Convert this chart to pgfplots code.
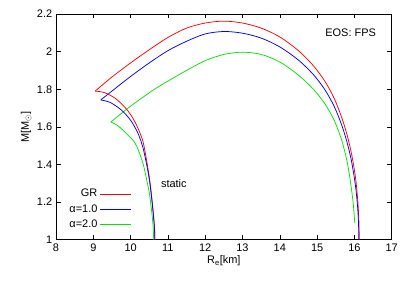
\documentclass[border=0pt]{standalone}
\usepackage{pgfplots}
\pgfplotsset{compat=1.18}
\usepackage{fontspec}
\setmainfont{Liberation Sans}
\definecolor{gpred}{RGB}{255,0,0}
\definecolor{gpblue}{RGB}{0,0,255}
\definecolor{gpgreen}{RGB}{0,230,0}
\begin{document}
\fontsize{11}{13}\selectfont
\begin{tikzpicture}
\begin{axis}[
  scale only axis, width=335.7bp, height=225.7bp,
  xmin=8, xmax=17, ymin=1, ymax=2.2,
  xtick={8,...,17}, ytick={1,1.2,1.4,1.6,1.8,2,2.2},
  yticklabels={1,1.2,1.4,1.6,1.8,2,2.2},
  /pgf/number format/assume math mode=true,
  tick align=inside, major tick length=4.5bp, minor tick num=0,
  tick style={black, line width=0.5bp},
  axis line style={line width=0.7bp},
  xlabel={R\textsubscript{e}[km]}, ylabel={M[M\textsubscript{$\odot$}]},
  xlabel style={yshift=3bp}, ylabel style={yshift=-2bp},
  every tick label/.append style={font=\fontsize{11}{13}\selectfont},
  label style={font=\fontsize{11}{13}\selectfont},
  legend style={draw=none, fill=none, at={(axis cs:10.1,1.29)}, anchor=north east,
    font=\fontsize{11}{13}\selectfont, row sep=2bp, cells={anchor=east}},
  legend plot pos=right,
  legend image code/.code={\draw[line width=0.75bp,#1] (0bp,0bp) -- (31bp,0bp);},
  clip=false,
]
% Kepler (rotating) branches
\addplot[color=gpred, line width=0.75bp, smooth, tension=0.5] coordinates {
(9.05,1.79) (9.5,1.865) (10,1.94) (10.5,2.01) (11,2.075) (11.5,2.125) (12,2.152) (12.5,2.162) (13.0,2.152) (13.5,2.125) (14.0,2.078) (14.5,2.005) (14.9,1.925) (15.2,1.845) (15.45,1.755) (15.65,1.655) (15.8,1.56) (15.93,1.45) (16.03,1.33) (16.09,1.21) (16.12,1.10) (16.13,1.0)};
\addlegendentry{GR}
\addplot[color=gpblue, line width=0.75bp, smooth, tension=0.5] coordinates {
(9.2,1.743) (9.6,1.806) (10.0,1.868) (10.5,1.94) (11,2.005) (11.5,2.055) (12,2.094) (12.5,2.107) (13.0,2.098) (13.5,2.072) (14.0,2.025) (14.5,1.955) (14.9,1.878) (15.2,1.80) (15.45,1.712) (15.65,1.615) (15.8,1.52) (15.92,1.42) (16.02,1.30) (16.08,1.19) (16.11,1.09) (16.12,1.0)};
\addlegendentry{α=1.0}
\addplot[color=gpgreen, line width=0.75bp, smooth, tension=0.5] coordinates {
(9.47,1.626) (10,1.71) (10.61,1.796) (11,1.843) (11.5,1.90) (12,1.952) (12.5,1.985) (13,1.997) (13.5,1.985) (14.0,1.945) (14.5,1.875) (14.9,1.80) (15.2,1.725) (15.45,1.638) (15.65,1.535) (15.8,1.42) (15.9,1.30) (15.97,1.19) (16.01,1.09)};
\addlegendentry{α=2.0}
% static branches
\addplot[color=gpred, line width=0.75bp, smooth, tension=0.5, forget plot] coordinates {
(9.05,1.79) (9.3,1.782) (9.6,1.75) (9.9,1.692) (10.12,1.625) (10.32,1.53) (10.43,1.42) (10.51,1.32) (10.57,1.22) (10.62,1.12) (10.645,1.05) (10.65,1.0)};
\addplot[color=gpblue, line width=0.75bp, smooth, tension=0.5, forget plot] coordinates {
(9.2,1.743) (9.45,1.73) (9.75,1.69) (10.0,1.635) (10.2,1.565) (10.33,1.49) (10.43,1.40) (10.51,1.31) (10.57,1.21) (10.62,1.11) (10.645,1.04) (10.65,1.0)};
\addplot[color=gpgreen, line width=0.75bp, smooth, tension=0.5, forget plot] coordinates {
(9.47,1.626) (9.65,1.607) (9.85,1.572) (10.1,1.52) (10.22,1.47) (10.34,1.40) (10.43,1.32) (10.5,1.25) (10.56,1.16) (10.6,1.08) (10.62,1.0)};
\node at (axis cs:11.16,1.296) {static};
\node at (axis cs:15.9,2.10) {EOS: FPS};
\end{axis}
\path (current axis.south west) ++(-56bp,-48.3bp) rectangle ++(412bp,288bp);
\end{tikzpicture}
\end{document}
